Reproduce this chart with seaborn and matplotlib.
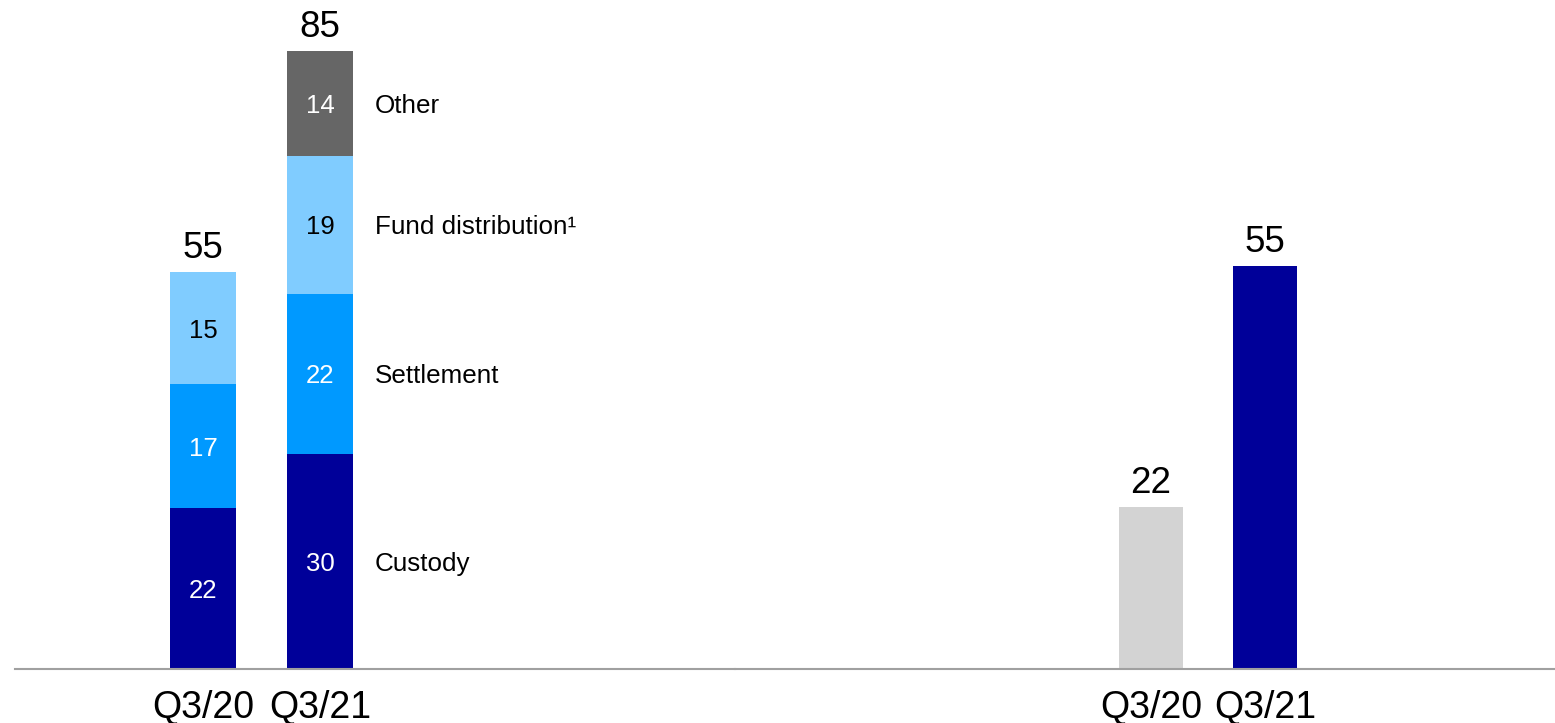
import matplotlib
matplotlib.use("Agg")
import matplotlib.pyplot as plt
import seaborn as sns
import pandas as pd
import numpy as np

sns.set_theme(style="white")
plt.rcParams['font.family'] = ['Liberation Sans', 'DejaVu Sans']

# ---------------- data ----------------
quarters = ["Q3/20", "Q3/21"]
segments = ["Custody", "Settlement", "Fund distribution", "Other"]
segment_labels = ["Custody", "Settlement", "Fund distribution\u00b9", "Other"]
custody = [22.1, 29.6]
settlement = [17.1, 22.0]
fund_distribution = [15.4, 19.0]
other = [0.0, 14.4]
right_values = [22.3, 55.4]

# ---------------- style ----------------
seg_colors = {"Custody": "#000099", "Settlement": "#0099FF",
              "Fund distribution": "#80CCFF", "Other": "#666666"}
seg_text_colors = {"Custody": "white", "Settlement": "white",
                   "Fund distribution": "black", "Other": "white"}
right_colors = ["#D3D3D3", "#000099"]
axis_color = "#A0A0A0"

W, H = 1555, 723
fig = plt.figure(figsize=(W / 100, H / 100), dpi=100)
base_px = 669
ymax = 669 / 7.27
axL = fig.add_axes([15 / W, (H - base_px) / H, 720 / W, base_px / H])
axR = fig.add_axes([735 / W, (H - base_px) / H, 820 / W, base_px / H])

df = pd.DataFrame({"quarter": quarters, "Custody": custody, "Settlement": settlement,
                   "Fund distribution": fund_distribution, "Other": other})
cum = df[segments].cumsum(axis=1)
bottoms = cum.shift(1, axis=1).fillna(0)

# stacked bars: draw cumulative totals from top segment down
for seg in reversed(segments):
    d = pd.DataFrame({"quarter": quarters, "cum": cum[seg].values})
    sns.barplot(data=d, x="quarter", y="cum", order=quarters, color=seg_colors[seg],
                saturation=1, width=0.556, linewidth=0, ax=axL, errorbar=None)

# segment value labels
for i, q in enumerate(quarters):
    for seg in segments:
        v = df.loc[i, seg]
        if v <= 0:
            continue
        yc = bottoms.loc[i, seg] + v / 2
        axL.text(i, yc, f"{round(v)}", ha="center", va="center_baseline",
                 fontsize=18.5, color=seg_text_colors[seg])
    total = cum.loc[i, segments[-1]]
    axL.annotate(f"{round(total)}", (i, total), xytext=(0, 4.5), textcoords="offset points",
                 ha="center", va="bottom", fontsize=26.5, color="black")

# segment names right of last bar
last = len(quarters) - 1
for seg, lab in zip(segments, segment_labels):
    v = df.loc[last, seg]
    yc = bottoms.loc[last, seg] + v / 2
    axL.annotate(lab, (last + 0.556 / 2, yc), xytext=(16, 0), textcoords="offset points",
                 ha="left", va="center_baseline", fontsize=18.7, color="black")

# right chart
dR = pd.DataFrame({"quarter": quarters, "value": right_values})
sns.barplot(data=dR, x="quarter", y="value", hue="quarter", order=quarters,
            palette=right_colors, legend=False, saturation=1, width=0.56,
            linewidth=0, ax=axR, errorbar=None)
for i, v in enumerate(right_values):
    axR.annotate(f"{round(v)}", (i, v), xytext=(0, 4.5), textcoords="offset points",
                 ha="center", va="bottom", fontsize=26.5, color="black")

axL.set_xlim(-188 / 117, 532 / 117)
axR.set_xlim(-416 / 114, 404 / 114)
for ax in (axL, axR):
    ax.set_ylim(0, ymax)
    ax.set_xlabel("")
    ax.set_ylabel("")
    ax.set_yticks([])
    for s in ("top", "left", "right"):
        ax.spines[s].set_visible(False)
    ax.spines["bottom"].set_color(axis_color)
    ax.spines["bottom"].set_linewidth(1.5)
    ax.tick_params(axis="x", length=0, labelsize=27, pad=15, colors="black")
    ax.patch.set_alpha(0)

fig.savefig("out.png", dpi=100)
